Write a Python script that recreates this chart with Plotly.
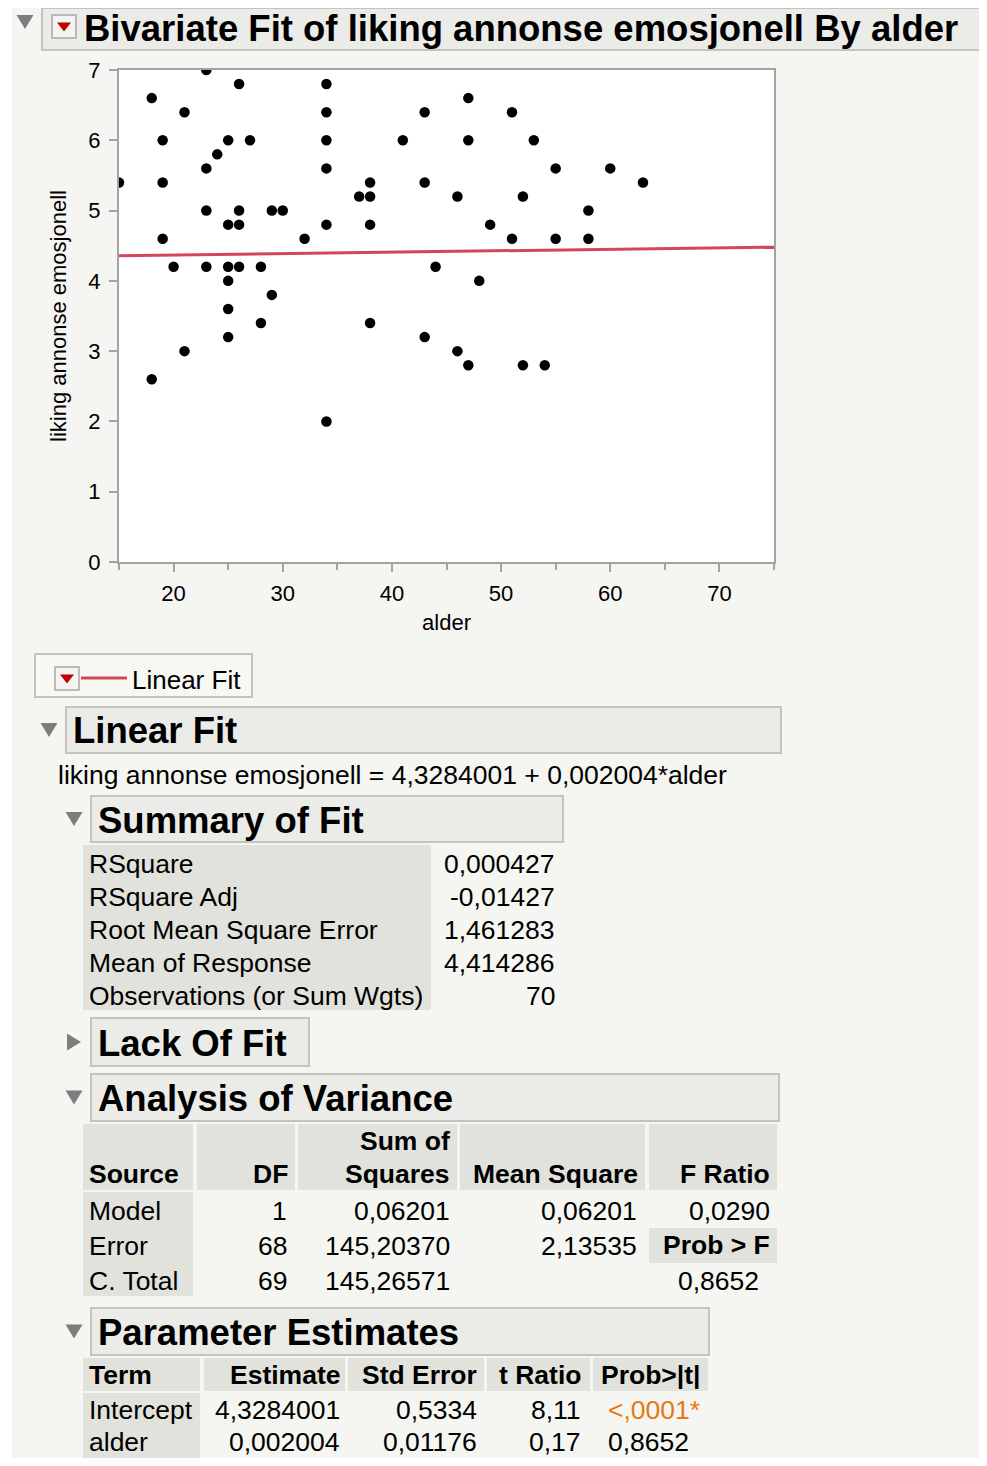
import plotly.graph_objects as go

# ---------------- data ----------------
alder = [23, 26, 34, 18, 47, 21, 34, 43, 51, 19, 25, 27, 34, 41, 47, 53, 24,
         23, 34, 55, 60, 15, 19, 38, 43, 63, 37, 38, 46, 52, 23, 26, 29, 30, 58,
         25, 26, 34, 38, 49, 19, 32, 51, 55, 58, 20, 23, 25, 26, 28, 44, 25, 48,
         29, 25, 28, 38, 25, 43, 21, 46, 47, 52, 54, 18, 34]
liking = [7.0, 6.8, 6.8, 6.6, 6.6, 6.4, 6.4, 6.4, 6.4, 6.0, 6.0, 6.0, 6.0, 6.0, 6.0, 6.0, 5.8,
          5.6, 5.6, 5.6, 5.6, 5.4, 5.4, 5.4, 5.4, 5.4, 5.2, 5.2, 5.2, 5.2, 5.0, 5.0, 5.0, 5.0, 5.0,
          4.8, 4.8, 4.8, 4.8, 4.8, 4.6, 4.6, 4.6, 4.6, 4.6, 4.2, 4.2, 4.2, 4.2, 4.2, 4.2, 4.0, 4.0,
          3.8, 3.6, 3.4, 3.4, 3.2, 3.2, 3.0, 3.0, 2.8, 2.8, 2.8, 2.6, 2.0]

intercept = 4.3284001
slope = 0.002004
x_range = [15, 75]
y_range = [0, 7]
x_ticks = [20, 30, 40, 50, 60, 70]
x_minor = [15, 25, 35, 45, 55, 65, 75]
y_ticks = [0, 1, 2, 3, 4, 5, 6, 7]

title_text = "Bivariate Fit of liking annonse emosjonell By alder"
equation_text = "liking annonse emosjonell = 4,3284001 + 0,002004*alder"

summary_labels = ["RSquare", "RSquare Adj", "Root Mean Square Error",
                  "Mean of Response", "Observations (or Sum Wgts)"]
summary_values = ["0,000427", "-0,01427", "1,461283", "4,414286", "70"]

anova_sources = ["Model", "Error", "C. Total"]
anova_df = ["1", "68", "69"]
anova_ss = ["0,06201", "145,20370", "145,26571"]
anova_ms = ["0,06201", "2,13535", ""]
anova_f_ratio = "0,0290"
anova_prob_f = "0,8652"

pe_terms = ["Intercept", "alder"]
pe_estimate = ["4,3284001", "0,002004"]
pe_std_error = ["0,5334", "0,01176"]
pe_t_ratio = ["8,11", "0,17"]
pe_prob = ["<,0001*", "0,8652"]
pe_prob_colors = ["#e57a12", "#000000"]

# ---------------- layout helpers ----------------
# page body has an 8px margin; the figure fills the rest of the 987x1466 window
OFF = 8
W, H = 987 - 2 * OFF, 1466 - 2 * OFF
FONT = "Liberation Sans, Arial, sans-serif"
BG = "#f5f5f1"
BOX_FILL = "#ebebe7"
BOX_LINE = "#c4c4bf"
CELL = "#e2e2dd"
TRI = "#7d7d7d"
RED = "#d5465a"
BODY = 26.5
HEAD = 36.5

shapes = []
annotations = []


def fx(x):
    return (x - OFF) / W


def fy(y):
    return 1 - (y - OFF) / H


def rect(x0, y0, x1, y1, fill, line=None, lw=0):
    shapes.append(dict(type="rect", xref="paper", yref="paper",
                       x0=fx(x0), x1=fx(x1), y0=fy(y1), y1=fy(y0),
                       fillcolor=fill, line=dict(color=line or fill, width=lw),
                       layer="above"))


def poly(points, fill):
    path = "M " + " L ".join(f"{fx(a)},{fy(b)}" for a, b in points) + " Z"
    shapes.append(dict(type="path", xref="paper", yref="paper", path=path,
                       fillcolor=fill, line=dict(color=fill, width=0), layer="above"))


def tri_down(cx, cy, w=17, h=14, color=TRI):
    poly([(cx - w / 2, cy - h / 2), (cx + w / 2, cy - h / 2), (cx, cy + h / 2)], color)


def tri_right(cx, cy, w=14, h=17, color=TRI):
    poly([(cx - w / 2, cy - h / 2), (cx + w / 2, cy), (cx - w / 2, cy + h / 2)], color)


def text(x, y, s, size=BODY, bold=False, anchor="left", color="#000000"):
    annotations.append(dict(xref="paper", yref="paper", x=fx(x), y=fy(y),
                            text=f"<b>{s}</b>" if bold else s, showarrow=False,
                            xanchor=anchor, yanchor="middle", borderpad=0,
                            font=dict(family=FONT, size=size, color=color)))


def dropdown(x0, y0, x1, y1):
    rect(x0, y0, x1, y1, "#f4f4f2", "#a9a9a9", 1.5)
    cx, cy = (x0 + x1) / 2, (y0 + y1) / 2
    poly([(cx - 7, cy - 4), (cx + 7, cy - 4), (cx, cy + 5)], "#c00000")


def outline(x0, y0, x1, y1, label, tri_x, expanded=True):
    rect(x0, y0, x1, y1, BOX_FILL, BOX_LINE, 2)
    cy = (y0 + y1) / 2
    if expanded:
        tri_down(tri_x, cy)
    else:
        tri_right(tri_x, cy)
    text(x0 + 6, cy + 1, label, size=HEAD, bold=True)


# left white strip
rect(OFF, OFF, 12, 1458, "#ffffff")

# ---------------- title ----------------
rect(42, 5 + 3, 982, 50, BOX_FILL, BOX_LINE, 2)
tri_down(25, 22)
dropdown(52, 15, 76, 38)
text(83, 28, title_text, size=HEAD, bold=True)

# ---------------- legend box ----------------
rect(35, 654, 252, 697, "#f7f7f4", "#c4c4bf", 2)
dropdown(55, 667, 79, 690)
shapes.append(dict(type="line", xref="paper", yref="paper", x0=fx(81), x1=fx(127),
                   y0=fy(678), y1=fy(678), line=dict(color=RED, width=3)))
text(131, 680, "Linear Fit", size=26)

# ---------------- Linear Fit ----------------
outline(66, 707, 781, 753, "Linear Fit", 49)
text(57, 775, equation_text)

# ---------------- Summary of Fit ----------------
outline(91, 796, 563, 842, "Summary of Fit", 74)
rect(83, 845, 431, 1010, CELL)
for i, (lab, val) in enumerate(zip(summary_labels, summary_values)):
    yy = 864 + 33 * i
    text(88, yy, lab)
    text(556, yy, val, anchor="right")

# ---------------- Lack Of Fit ----------------
outline(91, 1018, 309, 1066, "Lack Of Fit", 74, expanded=False)

# ---------------- Analysis of Variance ----------------
outline(91, 1074, 779, 1121, "Analysis of Variance", 74)
anova_cols = [(83, 193), (197, 295), (298, 457), (460, 645), (649, 777)]
for c0, c1 in anova_cols:
    rect(c0, 1124, c1, 1190, CELL)
rect(83, 1192, 193, 1296, CELL)
rect(649, 1228, 777, 1263, CELL)
text(88, 1174, "Source", bold=True)
text(289, 1174, "DF", bold=True, anchor="right")
text(451, 1141, "Sum of", bold=True, anchor="right")
text(451, 1174, "Squares", bold=True, anchor="right")
text(639, 1174, "Mean Square", bold=True, anchor="right")
text(771, 1174, "F Ratio", bold=True, anchor="right")
for i, src in enumerate(anova_sources):
    yy = 1211 + 35 * i
    text(88, yy, src)
    text(288, yy, anova_df[i], anchor="right")
    text(451, yy, anova_ss[i], anchor="right")
    if anova_ms[i]:
        text(638, yy, anova_ms[i], anchor="right")
text(771, 1211, anova_f_ratio, anchor="right")
text(771, 1245, "Prob > F", bold=True, anchor="right")
text(760, 1281, anova_prob_f, anchor="right")

# ---------------- Parameter Estimates ----------------
outline(91, 1308, 709, 1355, "Parameter Estimates", 74)
pe_cols = [(83, 200), (204, 345), (348, 484), (487, 590), (593, 708)]
for c0, c1 in pe_cols:
    rect(c0, 1358, c1, 1391, CELL)
rect(83, 1393, 200, 1458, CELL)
text(88, 1375, "Term", bold=True)
text(341, 1375, "Estimate", bold=True, anchor="right")
text(478, 1375, "Std Error", bold=True, anchor="right")
text(582, 1375, "t Ratio", bold=True, anchor="right")
text(702, 1375, "Prob>|t|", bold=True, anchor="right")
pe_prob_right = [701, 690]
for i, term in enumerate(pe_terms):
    yy = 1410 + 32 * i
    text(88, yy, term)
    text(341, yy, pe_estimate[i], anchor="right")
    text(478, yy, pe_std_error[i], anchor="right")
    text(582, yy, pe_t_ratio[i], anchor="right")
    text(pe_prob_right[i], yy, pe_prob[i], anchor="right", color=pe_prob_colors[i])

# ---------------- figure ----------------
fig = go.Figure()
fig.add_trace(go.Scatter(x=alder, y=liking, mode="markers",
                         marker=dict(color="#000000", size=10.5), showlegend=False,
                         cliponaxis=True))
fit_y = [intercept + slope * v for v in x_range]
fig.add_trace(go.Scatter(x=x_range, y=fit_y, mode="lines",
                         line=dict(color=RED, width=3), showlegend=False))

axis_common = dict(showgrid=False, zeroline=False, showline=True, linecolor="#a3a3a3",
                   linewidth=2, mirror=True, ticks="outside", ticklen=8, tickwidth=2,
                   tickcolor="#a3a3a3", automargin=False,
                   tickfont=dict(family=FONT, size=22, color="#000"))

fig.update_layout(
    width=W, height=H, autosize=False,
    margin=dict(l=0, r=0, t=0, b=0, pad=0),
    paper_bgcolor=BG, plot_bgcolor="#ffffff",
    xaxis=dict(domain=[fx(119), fx(774)], range=x_range, tickvals=x_ticks,
               minor=dict(tickvals=x_minor, ticklen=6, tickwidth=2, tickcolor="#a3a3a3",
                          ticks="outside"),
               ticklabelstandoff=3,
               title=dict(text="alder", font=dict(family=FONT, size=22, color="#000"),
                          standoff=9),
               **axis_common),
    yaxis=dict(domain=[fy(562), fy(70)], range=y_range, tickvals=y_ticks,
               ticklabelstandoff=4,
               title=dict(text="liking annonse emosjonell",
                          font=dict(family=FONT, size=22, color="#000"), standoff=16),
               **axis_common),
    shapes=shapes,
    annotations=annotations,
    font=dict(family=FONT),
)

fig.write_html("out.html")
